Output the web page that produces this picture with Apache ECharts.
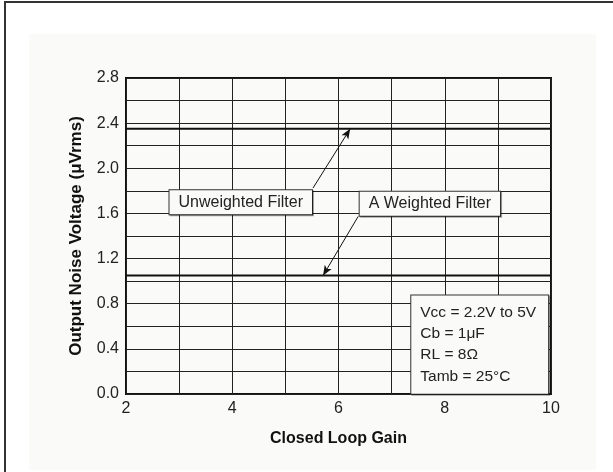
<!DOCTYPE html>
<html>
<head>
<meta charset="utf-8">
<script src="https://cdn.jsdelivr.net/npm/echarts@6/dist/echarts.min.js"></script>
<style>
  html, body { margin: 0; padding: 0; background: #fff; }
  #chart { width: 613px; height: 472px; }
</style>
</head>
<body>
<div id="chart"></div>
<script>
  // gain range, noise levels (uVrms)
  var gainRange = [2, 10];
  var unweighted = [2.35, 2.35];
  var aWeighted = [1.05, 1.05];
  var conditions = ['Vcc = 2.2V to 5V', 'Cb = 1\u03bcF', 'RL = 8\u03a9', 'Tamb = 25\u00b0C'];

  var FONT = 'Liberation Sans, Arial, Helvetica, sans-serif';

  function pairs(ys) {
    return gainRange.map(function (x, i) { return [x, ys[i]]; });
  }

  function boxLabel(text) {
    return {
      show: true,
      formatter: text,
      color: '#222',
      fontFamily: FONT,
      fontSize: 16,
      backgroundColor: '#fafaf8',
      borderColor: '#333',
      borderWidth: 1,
      padding: [4, 9, 4, 9],
      shadowColor: 'rgba(0,0,0,0.35)',
      shadowOffsetX: 1,
      shadowOffsetY: 1
    };
  }

  var chart = echarts.init(document.getElementById('chart'));
  var option = {
    animation: false,
    backgroundColor: '#fff',
    graphic: [
      { type: 'rect', shape: { x: 29, y: 34, width: 567, height: 436 }, style: { fill: '#fafaf8' }, z: -10 },
      { type: 'line', shape: { x1: 5, y1: 2, x2: 613, y2: 2 }, style: { stroke: '#333', lineWidth: 2 } },
      { type: 'line', shape: { x1: 5, y1: 1, x2: 5, y2: 472 }, style: { stroke: '#333', lineWidth: 2 } }
    ],
    grid: {
      left: 126, right: 62, top: 78, bottom: 78,
      show: true, borderColor: '#111', borderWidth: 2, backgroundColor: 'transparent'
    },
    xAxis: {
      type: 'value', min: 2, max: 10, interval: 1,
      name: 'Closed Loop Gain', nameLocation: 'middle', nameGap: 37,
      nameTextStyle: { fontFamily: FONT, fontSize: 16, fontWeight: 'bold', color: '#111' },
      axisLine: { show: false },
      axisTick: { show: false },
      axisLabel: {
        margin: 7, fontFamily: FONT, fontSize: 16, color: '#222',
        formatter: function (v) { return v % 2 === 0 ? String(v) : ''; }
      },
      splitLine: { show: true, lineStyle: { color: '#222', width: 1 } }
    },
    yAxis: {
      type: 'value', min: 0, max: 2.8, interval: 0.2,
      name: 'Output Noise Voltage (\u03bcVrms)', nameLocation: 'middle', nameGap: 41,
      nameTextStyle: { fontFamily: FONT, fontSize: 17, fontWeight: 'bold', color: '#111' },
      axisLine: { show: false },
      axisTick: { show: false },
      axisLabel: {
        margin: 7, fontFamily: FONT, fontSize: 16, color: '#222',
        formatter: function (v) { return Math.round(v * 10) % 4 === 0 ? v.toFixed(1) : ''; }
      },
      splitLine: { show: true, lineStyle: { color: '#222', width: 1 } }
    },
    series: [
      {
        name: 'Unweighted Filter', type: 'line', data: pairs(unweighted),
        showSymbol: false, lineStyle: { color: '#111', width: 2 },
        markLine: {
          silent: true, symbol: ['none', 'arrow'], symbolSize: [6, 10],
          label: { show: false }, lineStyle: { color: '#111', width: 1, type: 'solid' },
          data: [[{ coord: [5.52, 1.825] }, { coord: [6.22, 2.35] }]]
        },
        markPoint: {
          silent: true, symbol: 'rect', symbolSize: 0,
          data: [{ coord: [4.16, 1.70], label: boxLabel('Unweighted Filter') }]
        }
      },
      {
        name: 'A Weighted Filter', type: 'line', data: pairs(aWeighted),
        showSymbol: false, lineStyle: { color: '#111', width: 2 },
        markLine: {
          silent: true, symbol: ['none', 'arrow'], symbolSize: [6, 10],
          label: { show: false }, lineStyle: { color: '#111', width: 1, type: 'solid' },
          data: [[{ coord: [6.37, 1.573] }, { coord: [5.71, 1.05] }]]
        },
        markPoint: {
          silent: true, symbol: 'rect', symbolSize: 0,
          data: [{ coord: [7.72, 1.685], label: boxLabel('A Weighted Filter') }]
        }
      },
      {
        name: 'conditions', type: 'line', data: [],
        markPoint: {
          silent: true, symbol: 'rect', symbolSize: 0,
          data: [{
            coord: [7.37, 0.438],
            label: {
              show: true, formatter: conditions.join('\n'),
              align: 'left',
              color: '#222', fontFamily: FONT, fontSize: 15.5, lineHeight: 21.3,
              backgroundColor: '#fafaf8', borderColor: '#333', borderWidth: 1,
              padding: [8, 12, 5, 9],
              shadowColor: 'rgba(0,0,0,0.35)', shadowOffsetX: 1, shadowOffsetY: 1
            }
          }]
        }
      }
    ]
  };
  chart.setOption(option);
</script>
</body>
</html>
